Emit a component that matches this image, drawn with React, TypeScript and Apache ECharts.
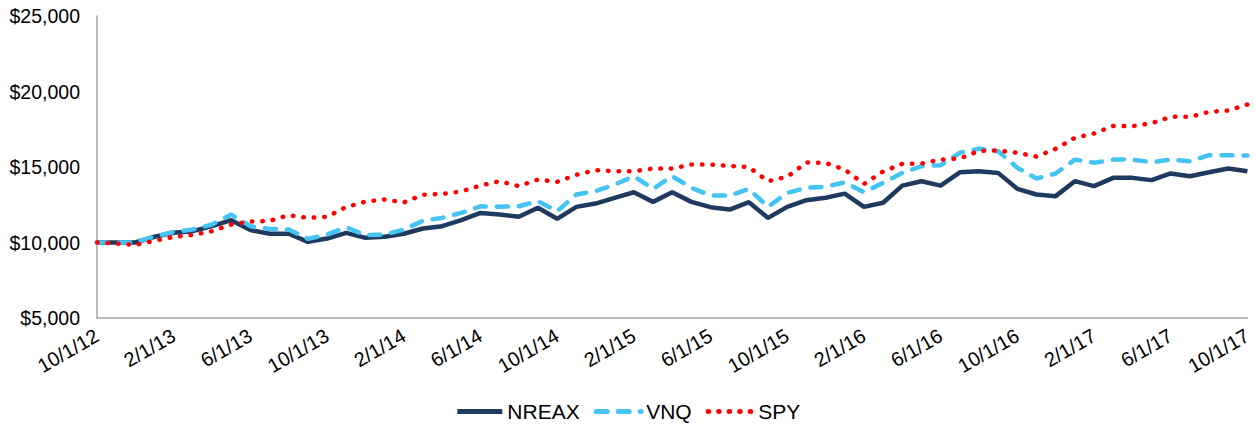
import React, { useEffect, useRef } from "react";
import * as echarts from "echarts";

const categories = [
  "10/1/12", "11/1/12", "12/1/12", "1/1/13", "2/1/13", "3/1/13", "4/1/13", "5/1/13", "6/1/13", "7/1/13",
  "8/1/13", "9/1/13", "10/1/13", "11/1/13", "12/1/13", "1/1/14", "2/1/14", "3/1/14", "4/1/14", "5/1/14",
  "6/1/14", "7/1/14", "8/1/14", "9/1/14", "10/1/14", "11/1/14", "12/1/14", "1/1/15", "2/1/15", "3/1/15",
  "4/1/15", "5/1/15", "6/1/15", "7/1/15", "8/1/15", "9/1/15", "10/1/15", "11/1/15", "12/1/15", "1/1/16",
  "2/1/16", "3/1/16", "4/1/16", "5/1/16", "6/1/16", "7/1/16", "8/1/16", "9/1/16", "10/1/16", "11/1/16",
  "12/1/16", "1/1/17", "2/1/17", "3/1/17", "4/1/17", "5/1/17", "6/1/17", "7/1/17", "8/1/17", "9/1/17",
  "10/1/17",
];

const nreax = [
  10000, 10000, 10000, 10380, 10640, 10750, 11080, 11480, 10820, 10580,
  10580, 10040, 10260, 10640, 10310, 10380, 10580, 10930, 11080, 11480,
  11960, 11850, 11700, 12300, 11570, 12360, 12580, 12960, 13330, 12690,
  13330, 12690, 12340, 12180, 12670, 11630, 12360, 12800, 12960, 13240,
  12360, 12630, 13770, 14060, 13770, 14650, 14720, 14610, 13550, 13180,
  13070, 14060, 13730, 14280, 14280, 14130, 14570, 14390, 14650, 14900,
  14720,
];

const vnq = [
  10000, 10000, 10000, 10400, 10700, 10860, 11190, 11850, 11080, 10900,
  10860, 10240, 10530, 11010, 10480, 10530, 10860, 11440, 11630, 11960,
  12400, 12360, 12400, 12730, 12070, 13180, 13400, 13840, 14390, 13550,
  14390, 13620, 13110, 13110, 13550, 12360, 13290, 13620, 13690, 13990,
  13330, 13950, 14610, 15050, 15120, 15940, 16220, 16040, 14950, 14240,
  14570, 15490, 15280, 15490, 15490, 15320, 15490, 15380, 15780, 15780,
  15760,
];

const spy = [
  10000, 9930, 9840, 10110, 10370, 10510, 10750, 11190, 11390, 11430,
  11810, 11630, 11700, 12350, 12710, 12850, 12650, 13160, 13220, 13380,
  13770, 14060, 13730, 14170, 14020, 14480, 14790, 14720, 14720, 14900,
  14900, 15160, 15160, 15070, 14990, 14060, 14350, 15300, 15270, 14830,
  13880, 14700, 15210, 15230, 15490, 15560, 16070, 16090, 15940, 15690,
  16200, 16930, 17220, 17720, 17700, 17900, 18320, 18320, 18650, 18740,
  19140,
];

const seriesNames = ["NREAX", "VNQ", "SPY"];
const FONT = "'Liberation Sans', Arial, Helvetica, sans-serif";

export default function App() {
  const ref = useRef<HTMLDivElement>(null);
  useEffect(() => {
    if (!ref.current) return;
    const chart = echarts.init(ref.current, null, { renderer: "svg" });
    chart.setOption({
      animation: false,
      textStyle: { fontFamily: FONT },
      grid: { left: 97, right: 7, top: 16, bottom: 110, containLabel: false },
      legend: {
        data: seriesNames,
        bottom: 1,
        left: "center",
        itemWidth: 45,
        itemHeight: 12,
        itemGap: 14,
        itemStyle: { opacity: 0 },
        lineStyle: { width: 5 },
        textStyle: { fontSize: 21, color: "#000", fontFamily: FONT },
      },
      xAxis: {
        type: "category",
        data: categories,
        boundaryGap: false,
        axisLine: { lineStyle: { color: "#a6a6a6", width: 1.5 } },
        axisTick: { show: false },
        axisLabel: {
          interval: 3,
          rotate: 30,
          fontSize: 20,
          color: "#000",
          margin: 16,
          fontFamily: FONT,
        },
        splitLine: { show: false },
      },
      yAxis: {
        type: "value",
        min: 5000,
        max: 25000,
        interval: 5000,
        axisLine: { show: true, lineStyle: { color: "#a6a6a6", width: 1.5 } },
        axisTick: { show: false },
        splitLine: { show: false },
        axisLabel: {
          fontSize: 19.5,
          color: "#000",
          margin: 17,
          fontFamily: FONT,
          formatter: (v: number) => "$" + v.toLocaleString("en-US"),
        },
      },
      series: [
        {
          name: "NREAX",
          type: "line",
          data: nreax,
          symbol: "none",
          z: 1,
          lineStyle: { color: "#1f3a5f", width: 4.5 },
          itemStyle: { color: "#1f3a5f" },
        },
        {
          name: "VNQ",
          type: "line",
          data: vnq,
          symbol: "none",
          z: 2,
          lineStyle: { color: "#45c3f2", width: 4.5, type: [11, 11], cap: "round" },
          itemStyle: { color: "#45c3f2" },
        },
        {
          name: "SPY",
          type: "line",
          data: spy,
          symbol: "none",
          z: 3,
          lineStyle: { color: "#ff0000", width: 4.5, type: [0.5, 10], cap: "round" },
          itemStyle: { color: "#ff0000" },
        },
      ],
    });
    return () => chart.dispose();
  }, []);
  return (
    <div
      ref={ref}
      style={{ position: "absolute", left: 0, top: 0, width: 1255, height: 428 }}
    />
  );
}
